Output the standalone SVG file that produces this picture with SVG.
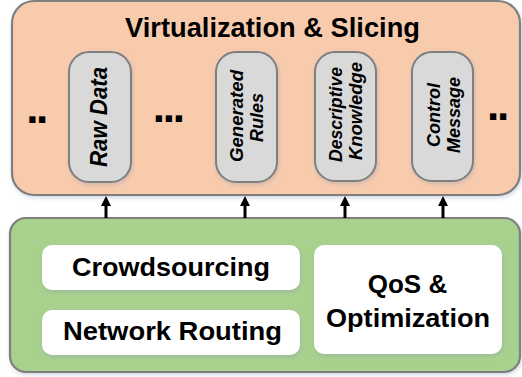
<svg xmlns="http://www.w3.org/2000/svg" width="522" height="377" viewBox="0 0 522 377">
<defs>
<filter id="sh" x="-5%" y="-5%" width="110%" height="115%">
<feDropShadow dx="1" dy="2" stdDeviation="2" flood-color="#7f93b0" flood-opacity="0.35"/>
</filter>
<marker id="ah" markerWidth="10" markerHeight="10" refX="0" refY="5" orient="auto" markerUnits="userSpaceOnUse" viewBox="0 0 10 10">
<path d="M0,0 L10,5 L0,10 Z" fill="#000"/>
</marker>
</defs>
<style>
.outer{stroke:#7f7f7f;stroke-width:2.2}
.pill{fill:#d9d9d9;stroke:#7f7f7f;stroke-width:2}
.wbox{fill:#ffffff}
text{font-family:"Liberation Sans",Arial,sans-serif;fill:#000}
.b{font-weight:bold}
.big{font-size:26px;font-weight:bold;text-anchor:middle}
.vt{font-style:italic;font-weight:bold;text-anchor:middle}
.dots{font-size:44px;font-weight:bold}
.conn{stroke:#000;stroke-width:3;fill:none}
</style>
<g id="virtualization-slicing">
<rect class="outer" x="12" y="1" width="508" height="194" rx="22" fill="#f8cbad" filter="url(#sh)"/>
<text class="b" x="272.5" y="37" font-size="27" text-anchor="middle" textLength="295" lengthAdjust="spacingAndGlyphs">Virtualization &amp; Slicing</text>
<text class="dots" x="26.3" y="122.7" letter-spacing="-2.5">..</text>
<text class="dots" x="152.7" y="122" letter-spacing="-2.2">...</text>
<text class="dots" x="487" y="119.5" letter-spacing="-2.2">..</text>
</g>
<g id="raw-data">
<rect class="pill" x="69" y="52" width="62" height="130" rx="20" filter="url(#sh)"/>
<text class="vt" transform="translate(107,117) rotate(-90)" font-size="23" textLength="100" lengthAdjust="spacingAndGlyphs">Raw Data</text>
</g>
<g id="generated-rules">
<rect class="pill" x="216" y="52" width="61" height="130" rx="20" filter="url(#sh)"/>
<text class="vt" transform="translate(243,116) rotate(-90)" font-size="18" textLength="92" lengthAdjust="spacingAndGlyphs">Generated</text>
<text class="vt" transform="translate(263,117.5) rotate(-90)" font-size="18" textLength="49" lengthAdjust="spacingAndGlyphs">Rules</text>
</g>
<g id="descriptive-knowledge">
<rect class="pill" x="315" y="52" width="61" height="129" rx="20" filter="url(#sh)"/>
<text class="vt" transform="translate(342,114.5) rotate(-90)" font-size="18" textLength="95" lengthAdjust="spacingAndGlyphs">Descriptive</text>
<text class="vt" transform="translate(362,111) rotate(-90)" font-size="18" textLength="98" lengthAdjust="spacingAndGlyphs">Knowledge</text>
</g>
<g id="control-message">
<rect class="pill" x="412" y="52" width="61" height="129" rx="20" filter="url(#sh)"/>
<text class="vt" transform="translate(440,115) rotate(-90)" font-size="18" textLength="64" lengthAdjust="spacingAndGlyphs">Control</text>
<text class="vt" transform="translate(460,115) rotate(-90)" font-size="18" textLength="76" lengthAdjust="spacingAndGlyphs">Message</text>
</g>
<g id="services">
<rect class="outer" x="10" y="218" width="510" height="154" rx="16" fill="#a9d18e" filter="url(#sh)"/>
</g>
<g id="crowdsourcing">
<rect class="wbox" x="42" y="245" width="258" height="45" rx="10" filter="url(#sh)"/>
<text class="big" x="171" y="276" textLength="198" lengthAdjust="spacingAndGlyphs">Crowdsourcing</text>
</g>
<g id="network-routing">
<rect class="wbox" x="42" y="310" width="258" height="45" rx="10" filter="url(#sh)"/>
<text class="big" x="172.5" y="340" textLength="219" lengthAdjust="spacingAndGlyphs">Network Routing</text>
</g>
<g id="qos-optimization">
<rect class="wbox" x="314" y="245" width="188" height="109" rx="10" filter="url(#sh)"/>
<text class="big" x="407.5" y="293">QoS &amp;</text>
<text class="big" x="408" y="327" textLength="164" lengthAdjust="spacingAndGlyphs">Optimization</text>
</g>
<g id="connectors">
<line class="conn" x1="106" y1="218" x2="106" y2="206" marker-end="url(#ah)"/>
<line class="conn" x1="245" y1="218" x2="245" y2="206" marker-end="url(#ah)"/>
<line class="conn" x1="345" y1="218" x2="345" y2="206" marker-end="url(#ah)"/>
<line class="conn" x1="443" y1="218" x2="443" y2="206" marker-end="url(#ah)"/>
</g>
</svg>
